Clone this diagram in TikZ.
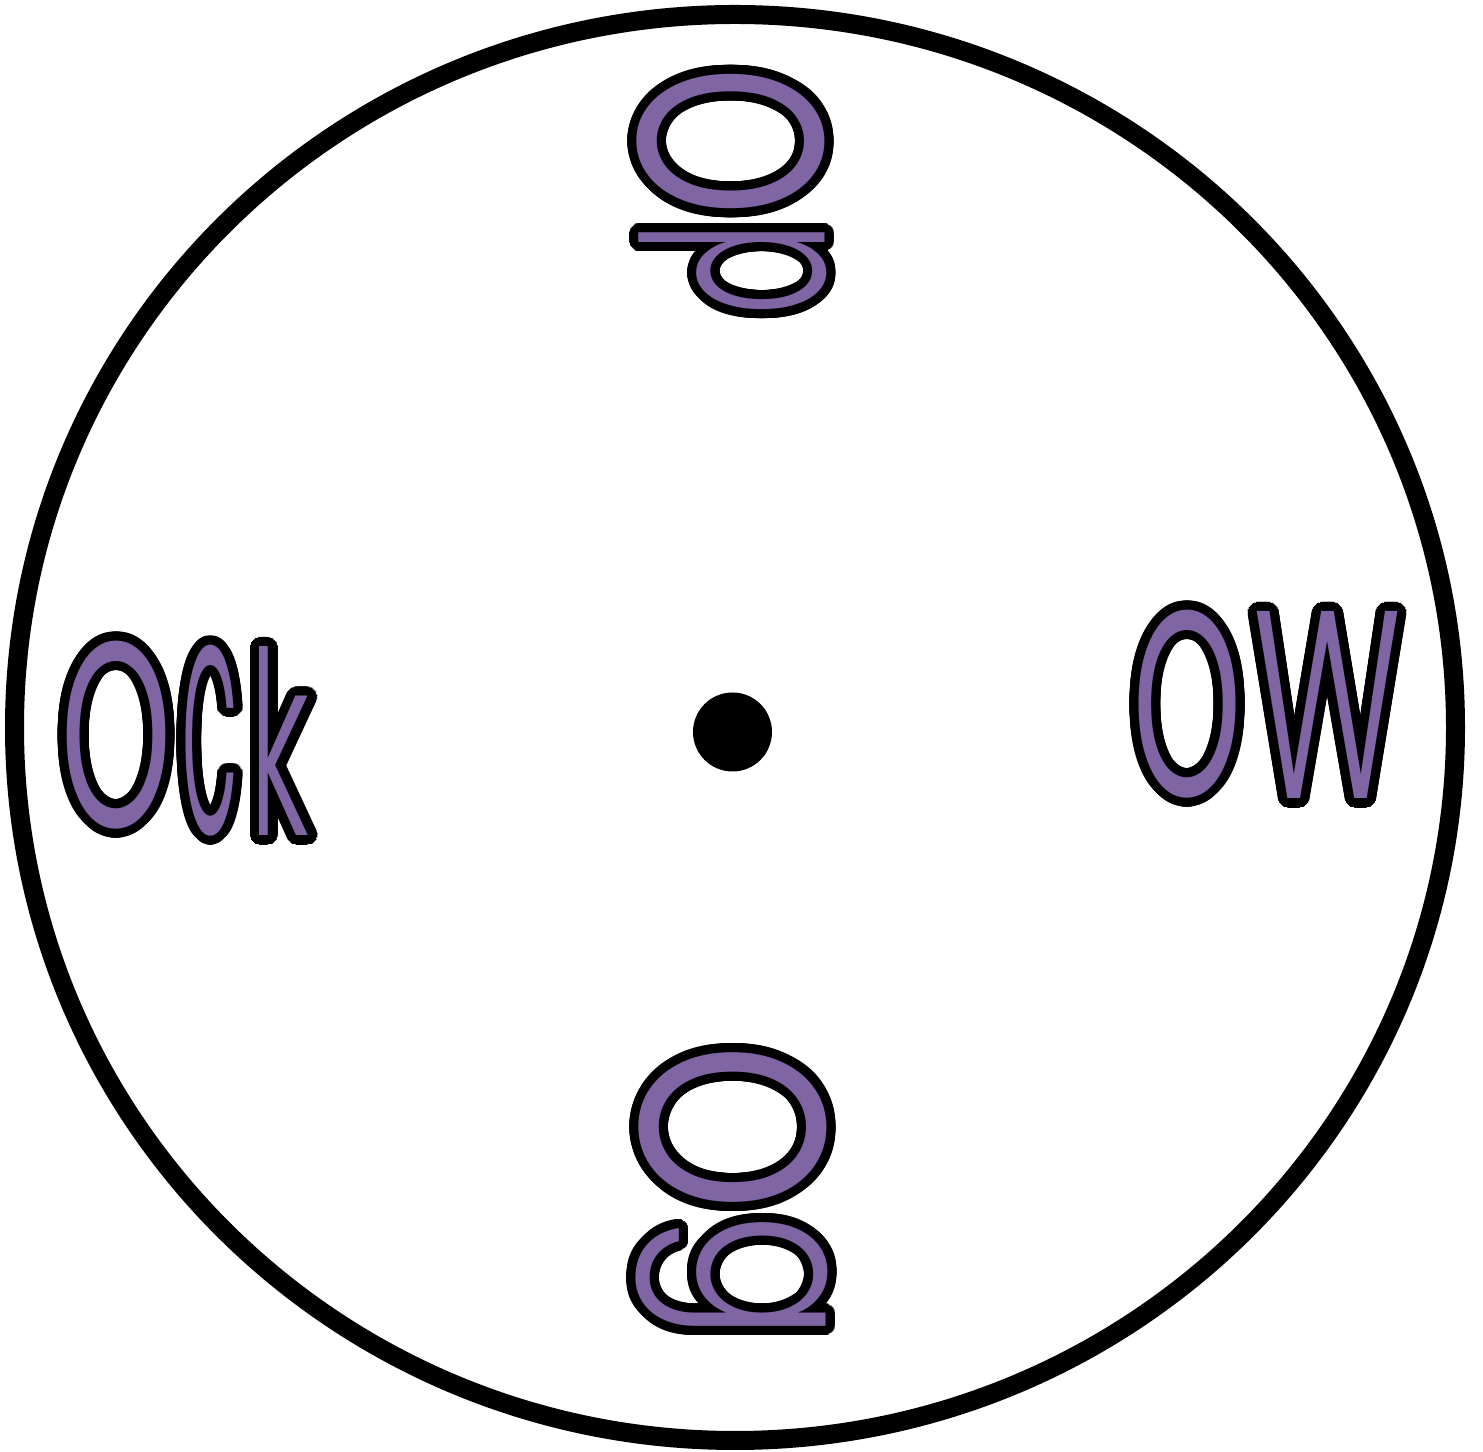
\documentclass[tikz,border=0pt]{standalone}
\usepackage{fontspec}
\usepackage{graphicx}
\usepackage[copies]{contour}
\usepackage{tikz}

\newfontfamily\spinfont{Poppins Light}
\definecolor{lilac}{RGB}{127,101,164}
\contourlength{2.6pt}
\contournumber{40}
\newcommand{\spinletter}[3]{\contour{black}{\resizebox*{#1}{#2}{#3}}}

\tikzset{letter/.style={inner sep=0pt, text=lilac, font=\spinfont}}

\begin{document}
\begin{tikzpicture}
    \useasboundingbox (0,0) rectangle (14.83,14.52);
    \draw[line width=0.19cm] (7.35,7.245) ellipse [x radius=7.205, y radius=7.13];
    \fill (7.325,7.20) circle (0.395);

    % top word
    \node[letter, rotate=-90] (op-o) at (7.265,13.105) {\spinletter{1.58cm}{1.88cm}{o}};
    \node[letter, rotate=-90] (op-p) at (7.285,11.83) {\spinletter{0.95cm}{1.88cm}{p}};

    % right word
    \node[letter] (ow-o) at (11.875,7.435) {\spinletter{1.14cm}{1.88cm}{o}};
    \node[letter] (ow-w) at (13.275,7.42) {\spinletter{1.46cm}{1.87cm}{w}};

    % bottom word
    \node[letter, rotate=-90] (og-o) at (7.285,3.245) {\spinletter{1.76cm}{1.88cm}{o}};
    \node[letter, rotate=-90] (og-g) at (7.275,1.745) {\spinletter{1.28cm}{1.92cm}{g}};

    % left word
    \node[letter] (ock-o) at (1.165,7.125) {\spinletter{1.16cm}{1.88cm}{o}};
    \node[letter] (ock-c) at (2.10,7.07) {\spinletter{0.57cm}{1.91cm}{c}};
    \node[letter] (ock-k) at (2.80,7.06) {\spinletter{0.60cm}{1.89cm}{k}};
\end{tikzpicture}
\end{document}
